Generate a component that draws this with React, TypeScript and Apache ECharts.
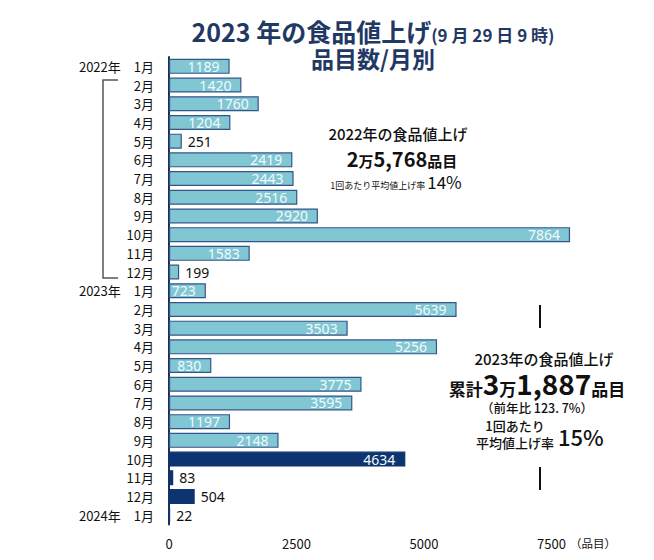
import React, { useEffect, useRef } from "react";
import * as echarts from "echarts";

const categories = [
  "2022年　1月", "2月", "3月", "4月", "5月", "6月", "7月", "8月", "9月", "10月", "11月", "12月",
  "2023年　1月", "2月", "3月", "4月", "5月", "6月", "7月", "8月", "9月", "10月", "11月", "12月",
  "2024年　1月",
];
const values = [
  1189, 1420, 1760, 1204, 251, 2419, 2443, 2516, 2920, 7864, 1583, 199,
  723, 5639, 3503, 5256, 830, 3775, 3595, 1197, 2148, 4634, 83, 504,
  22,
];
// index from which bars are drawn dark (2023年10月 onward)
const darkFrom = 21;
const outsideLabel = [251, 199, 83, 504, 22];
const xTicks = [0, 2500, 5000, 7500];

const CJK = "'Noto Sans CJK JP', 'Noto Sans', sans-serif";
const LIGHT = "#80C6D3";
const LIGHT_BORDER = "#34558A";
const DARK = "#0D3370";

export default function App() {
  const ref = useRef<HTMLDivElement>(null);
  useEffect(() => {
    if (!ref.current) return;
    const chart = echarts.init(ref.current, null, { renderer: "svg" });
    const data = values.map((v, i) => {
      const dark = i >= darkFrom;
      const outside = outsideLabel.includes(v);
      return {
        value: v,
        itemStyle: {
          color: dark ? DARK : LIGHT,
          borderColor: dark ? DARK : LIGHT_BORDER,
          borderWidth: 1.2,
        },
        label: outside
          ? { position: "right", distance: 6, color: "#111" }
          : { position: "insideRight", distance: 10, color: "#F2FAFC" },
      };
    });
    chart.setOption({
      animation: false,
      grid: { left: 169, right: 102.5, top: 57, bottom: 35.5, containLabel: false },
      xAxis: {
        type: "value",
        min: 0,
        max: 7500,
        interval: 2500,
        splitLine: { show: false },
        axisLine: { show: false },
        axisTick: { show: false },
        axisLabel: {
          color: "#111",
          fontSize: 13,
          margin: 12,
          fontFamily: CJK,
          formatter: (v: number) => (xTicks.includes(v) ? String(v) : ""),
        },
      },
      yAxis: {
        type: "category",
        data: categories,
        inverse: true,
        axisLine: { show: true, lineStyle: { color: "#1B2F5E", width: 2 } },
        axisTick: { show: false },
        axisLabel: { color: "#111", fontSize: 13, margin: 15, fontFamily: CJK },
      },
      series: [
        {
          type: "bar",
          data,
          clip: false,
          barCategoryGap: "20%",
          label: {
            show: true,
            fontSize: 14,
            fontFamily: "'Noto Sans', sans-serif",
          },
        },
      ],
      graphic: [
        {
          type: "text",
          x: 373,
          y: 30,
          style: {
            text: "{a|2023 年の食品値上げ}{b|(9 月 29 日 9 時)}",
            align: "center",
            verticalAlign: "middle",
            rich: {
              a: { fontSize: 25, fontWeight: "bold", fontFamily: CJK, fill: "#1F3864", verticalAlign: "bottom", lineHeight: 26 },
              b: { fontSize: 17, fontWeight: "bold", fontFamily: CJK, fill: "#1F3864", verticalAlign: "bottom", lineHeight: 22 },
            },
          },
        },
        {
          type: "text",
          x: 373,
          y: 58,
          style: {
            text: "品目数/月別",
            align: "center",
            verticalAlign: "middle",
            fontSize: 23,
            lineHeight: 24,
            fontWeight: "bold",
            fontFamily: CJK,
            fill: "#1F3864",
          },
        },
        {
          type: "text",
          x: 570,
          y: 543,
          style: { text: "（品目）", align: "left", verticalAlign: "middle", fontSize: 11.5, fontFamily: CJK, fill: "#111" },
        },
        {
          type: "polyline",
          shape: { points: [[118, 80], [103, 80], [103, 278], [118, 278]] },
          style: { stroke: "#555", lineWidth: 1.5, fill: null },
        },
        {
          type: "line",
          shape: { x1: 540, y1: 305, x2: 540, y2: 328 },
          style: { stroke: "#111", lineWidth: 2 },
        },
        {
          type: "line",
          shape: { x1: 540, y1: 467, x2: 540, y2: 490 },
          style: { stroke: "#111", lineWidth: 2 },
        },
        // 2022 annotation
        {
          type: "text",
          x: 398,
          y: 133,
          style: { text: "2022年の食品値上げ", align: "center", verticalAlign: "middle", fontSize: 15, fontWeight: 500, fontFamily: CJK, fill: "#111" },
        },
        {
          type: "text",
          x: 402,
          y: 157,
          style: {
            text: "{n|2}{s|万}{n|5,768}{s|品目}",
            align: "center",
            verticalAlign: "middle",
            rich: {
              n: { fontSize: 20, fontWeight: "bold", fontFamily: CJK, fill: "#111", verticalAlign: "bottom", lineHeight: 22 },
              s: { fontSize: 15, fontWeight: "bold", fontFamily: CJK, fill: "#111", verticalAlign: "bottom", lineHeight: 20 },
            },
          },
        },
        {
          type: "text",
          x: 396,
          y: 181,
          style: {
            text: "{s|1回あたり平均値上げ率 }{n|14%}",
            align: "center",
            verticalAlign: "middle",
            rich: {
              s: { fontSize: 9, fontFamily: CJK, fill: "#111", verticalAlign: "bottom", lineHeight: 14 },
              n: { fontSize: 17, fontFamily: CJK, fill: "#111", verticalAlign: "bottom", lineHeight: 18 },
            },
          },
        },
        // 2023 annotation
        {
          type: "text",
          x: 544,
          y: 358,
          style: { text: "2023年の食品値上げ", align: "center", verticalAlign: "middle", fontSize: 15, fontWeight: 500, fontFamily: CJK, fill: "#111" },
        },
        {
          type: "text",
          x: 537,
          y: 383,
          style: {
            text: "{s|累計}{n|3}{s|万}{n|1,887}{s|品目}",
            align: "center",
            verticalAlign: "middle",
            rich: {
              n: { fontSize: 28, fontWeight: "bold", fontFamily: CJK, fill: "#111", verticalAlign: "bottom", lineHeight: 28 },
              s: { fontSize: 17, fontWeight: "bold", fontFamily: CJK, fill: "#111", verticalAlign: "bottom", lineHeight: 22 },
            },
          },
        },
        {
          type: "text",
          x: 537,
          y: 407,
          style: { text: "（前年比 123. 7%）", align: "center", verticalAlign: "middle", fontSize: 12.5, lineHeight: 13, fontWeight: 500, fontFamily: CJK, fill: "#111" },
        },
        {
          type: "text",
          x: 515,
          y: 425,
          style: { text: "1回あたり", align: "center", verticalAlign: "middle", fontSize: 13, lineHeight: 14, fontWeight: 500, fontFamily: CJK, fill: "#111" },
        },
        {
          type: "text",
          x: 515,
          y: 442,
          style: { text: "平均値上げ率", align: "center", verticalAlign: "middle", fontSize: 13, lineHeight: 14, fontWeight: 500, fontFamily: CJK, fill: "#111" },
        },
        {
          type: "text",
          x: 558,
          y: 436,
          style: { text: "15%", align: "left", verticalAlign: "middle", fontSize: 22, fontWeight: 500, fontFamily: CJK, fill: "#111" },
        },
      ],
    });
    return () => chart.dispose();
  }, []);
  return <div ref={ref} style={{ position: "absolute", left: 0, top: 0, width: 654, height: 560 }} />;
}
